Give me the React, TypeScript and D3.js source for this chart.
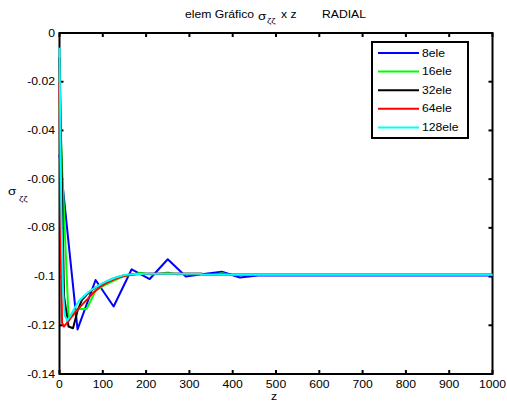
import React from "react";
import * as d3 from "d3";

const W = 507;
const H = 412;

const xTicks = [0, 100, 200, 300, 400, 500, 600, 700, 800, 900, 1000];
const yTicks = [0, -0.02, -0.04, -0.06, -0.08, -0.1, -0.12, -0.14];
const yTickLabels = ["0", "-0.02", "-0.04", "-0.06", "-0.08", "-0.1", "-0.12", "-0.14"];

const seriesNames = ["8ele", "16ele", "32ele", "64ele", "128ele"];
const seriesColors = ["#0000ff", "#00ff00", "#000000", "#ff0000", "#00ffff"];

const z8 = [0, 41.67, 83.33, 125, 166.67, 208.33, 250, 291.67, 333.33, 375, 416.67, 458.33, 1000];
const v8 = [-0.05, -0.1217, -0.1014, -0.1123, -0.097, -0.101, -0.0929, -0.1, -0.0989, -0.098, -0.1004, -0.0996, -0.0996];

const z16 = [0, 20.83, 41.67, 62.5, 83.33, 104.17, 125, 145.83, 166.67, 187.5, 208.33, 229.17, 250, 270.83, 291.67, 312.5, 333.33, 354.17, 375, 395.83, 1000];
const v16 = [-0.03, -0.117, -0.1133, -0.1133, -0.1058, -0.1035, -0.1018, -0.1, -0.0993, -0.0984, -0.0991, -0.0989, -0.0983, -0.0991, -0.0989, -0.099, -0.0993, -0.0993, -0.0986, -0.0993, -0.0993];

const z32 = [0, 10.42, 20.83, 31.25, 41.67, 52.08, 62.5, 72.92, 83.33, 93.75, 104.17, 114.58, 125, 135.42, 145.83, 156.25, 166.67, 187.5, 208.33, 328, 333, 1000];
const v32 = [-0.01, -0.108, -0.1205, -0.1212, -0.114, -0.1095, -0.1075, -0.1058, -0.1045, -0.1035, -0.1025, -0.1016, -0.1008, -0.1002, -0.0997, -0.0993, -0.099, -0.0988, -0.0988, -0.0988, -0.0993, -0.0993];

const z64 = [0, 3, 6, 10, 15, 20, 26, 33, 43, 55, 66, 80, 95, 110, 125, 140, 160, 180, 210, 328, 334, 1000];
const v64 = [-0.02, -0.09, -0.119, -0.1205, -0.1195, -0.1185, -0.117, -0.1155, -0.1133, -0.111, -0.109, -0.1063, -0.104, -0.1025, -0.1012, -0.1002, -0.0994, -0.099, -0.0988, -0.0988, -0.0993, -0.0993];

const z128 = [0, 4, 8, 12, 18, 24, 30, 36, 45, 55, 66, 78, 90, 100, 113, 128, 144, 160, 175, 200, 325, 332, 1000];
const v128 = [-0.006, -0.07, -0.105, -0.116, -0.118, -0.1165, -0.1145, -0.1126, -0.11, -0.1083, -0.1065, -0.105, -0.1037, -0.1027, -0.1016, -0.1005, -0.0996, -0.0991, -0.0989, -0.0988, -0.0988, -0.0993, -0.0993];

const seriesZ = [z8, z16, z32, z64, z128];
const seriesV = [v8, v16, v32, v64, v128];

const FONT = "Liberation Sans, Arial, Helvetica, sans-serif";
const SX = 1.22;

function T({ x, y, children, size = 10, anchor = "start", fill = "#000" }: any) {
  return (
    <text
      transform={`translate(${x},${y}) scale(${SX},1)`}
      fontFamily={FONT}
      fontSize={size}
      textAnchor={anchor}
      fill={fill}
    >
      {children}
    </text>
  );
}

export default function App() {
  const L = 59.5, R = 492.5, TOP = 33, B = 374;
  const x = d3.scaleLinear().domain([0, 1000]).range([L, R]);
  const y = d3.scaleLinear().domain([-0.14, 0]).range([B, TOP]);
  const line = d3
    .line<[number, number]>()
    .x((d) => x(d[0]))
    .y((d) => y(d[1]));
  const tl = 4;

  const legX = 372, legY = 42, legW = 96, legH = 96;
  const rowY = (i: number) => 53 + i * 18.6;

  return (
    <svg
      width={W}
      height={H}
      style={{ position: "absolute", left: 0, top: 0, background: "#fff" }}
    >
      <rect x={0} y={0} width={W} height={H} fill="#fff" />
      {/* title */}
      <T x={185} y={17.5} size={10}>elem Gráfico</T>
      <T x={258} y={19.5} size={11}>σ</T>
      <T x={267} y={23} size={8}>ζζ</T>
      <T x={281} y={17.5} size={10}>x z</T>
      <T x={322} y={17.5} size={10}>RADIAL</T>

      {/* ticks */}
      {xTicks.map((t) => (
        <g key={"xt" + t}>
          <line x1={x(t)} x2={x(t)} y1={B} y2={B - tl} stroke="#000" strokeWidth={2} />
          <line x1={x(t)} x2={x(t)} y1={TOP} y2={TOP + tl} stroke="#000" strokeWidth={2} />
          <T x={x(t)} y={388} anchor="middle">{String(t)}</T>
        </g>
      ))}
      {yTicks.map((t, i) => (
        <g key={"yt" + i}>
          <line x1={L} x2={L + tl} y1={y(t)} y2={y(t)} stroke="#000" strokeWidth={2} />
          <line x1={R} x2={R - tl} y1={y(t)} y2={y(t)} stroke="#000" strokeWidth={2} />
          <T x={55} y={y(t) + 3.5} anchor="end">{yTickLabels[i]}</T>
        </g>
      ))}
      <rect x={L} y={TOP} width={R - L} height={B - TOP} fill="none" stroke="#000" strokeWidth={2} />

      {/* axis labels */}
      <T x={274} y={400} anchor="middle">z</T>
      <T x={8} y={195} size={11}>σ</T>
      <T x={19} y={201} size={8}>ζζ</T>

      {/* data */}
      {seriesZ.map((zs, i) => (
        <path
          key={"s" + i}
          d={line(zs.map((z, j) => [z, seriesV[i][j]] as [number, number])) || ""}
          fill="none"
          stroke={seriesColors[i]}
          strokeWidth={2}
          strokeLinejoin="round"
        />
      ))}

      {/* legend */}
      <rect x={legX} y={legY} width={legW} height={legH} fill="#fff" stroke="#000" strokeWidth={2} />
      {seriesNames.map((n, i) => (
        <g key={"lg" + i}>
          <line x1={378} x2={419} y1={rowY(i)} y2={rowY(i)} stroke={seriesColors[i]} strokeWidth={2} />
          <T x={422} y={rowY(i) + 3.5}>{n}</T>
        </g>
      ))}
    </svg>
  );
}
